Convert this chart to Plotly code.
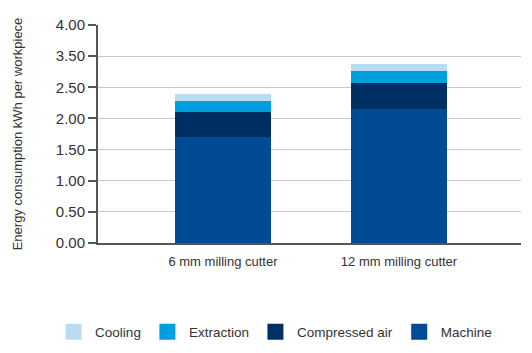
import plotly.graph_objects as go

categories = ["6 mm milling cutter", "12 mm milling cutter"]
machine = [1.70, 2.15]
compressed_air = [0.40, 0.42]
extraction = [0.18, 0.19]
cooling = [0.11, 0.11]

tick_vals = [0, 0.5, 1.0, 1.5, 2.0, 2.5, 3.0, 3.5]
tick_text = ["0.00", "0.50", "1.00", "1.50", "2.00", "2.50", "3.50", "4.00"]

series = [
    ("Machine", machine, "#004b93"),
    ("Compressed air", compressed_air, "#003063"),
    ("Extraction", extraction, "#00a0e0"),
    ("Cooling", cooling, "#b8ddf2"),
]

FONT = "Liberation Sans, Arial, sans-serif"
TXT = "#333333"

fig = go.Figure()
for name, vals, color in series:
    fig.add_trace(go.Bar(
        x=categories, y=vals, name=name, marker=dict(color=color, line=dict(width=0)),
        width=0.545, showlegend=False,
    ))
for name, vals, color in series:
    fig.add_trace(go.Scatter(
        x=[None], y=[None], mode="markers", name=name,
        marker=dict(symbol="square", size=22, color=color),
        showlegend=True,
    ))

fig.update_layout(
    barmode="stack",
    width=532, height=353,
    margin=dict(l=98, r=11, t=25, b=110, pad=0, autoexpand=False),
    paper_bgcolor="white", plot_bgcolor="white",
    font=dict(family=FONT, color=TXT, size=13),
    legend=dict(
        orientation="h", traceorder="reversed", itemsizing="trace",
        x=-0.1085, xanchor="left", y=-0.408, yanchor="middle",
        font=dict(family=FONT, size=13.5, color=TXT),
        itemwidth=33, bgcolor="rgba(0,0,0,0)",
    ),
    xaxis=dict(
        type="category", range=[-0.71, 1.693],
        showgrid=False, zeroline=False,
        showline=True, linecolor="#555555", linewidth=2,
        ticks="outside", ticklen=5, tickcolor="rgba(0,0,0,0)",
        tickfont=dict(family=FONT, size=13, color=TXT),
        fixedrange=True,
    ),
    yaxis=dict(
        range=[0, 3.5], tickvals=tick_vals, ticktext=tick_text,
        showgrid=True, gridcolor="#c8c8c8", gridwidth=1.3,
        zeroline=False,
        showline=True, linecolor="#555555", linewidth=2,
        ticks="outside", ticklen=8, tickwidth=2, tickcolor="#555555",
        tickfont=dict(family=FONT, size=15, color=TXT),
        title=dict(text="Energy consumption kWh per workpiece",
                   font=dict(family=FONT, size=13, color=TXT), standoff=30),
        fixedrange=True,
    ),
)

fig.write_html("out.html")
